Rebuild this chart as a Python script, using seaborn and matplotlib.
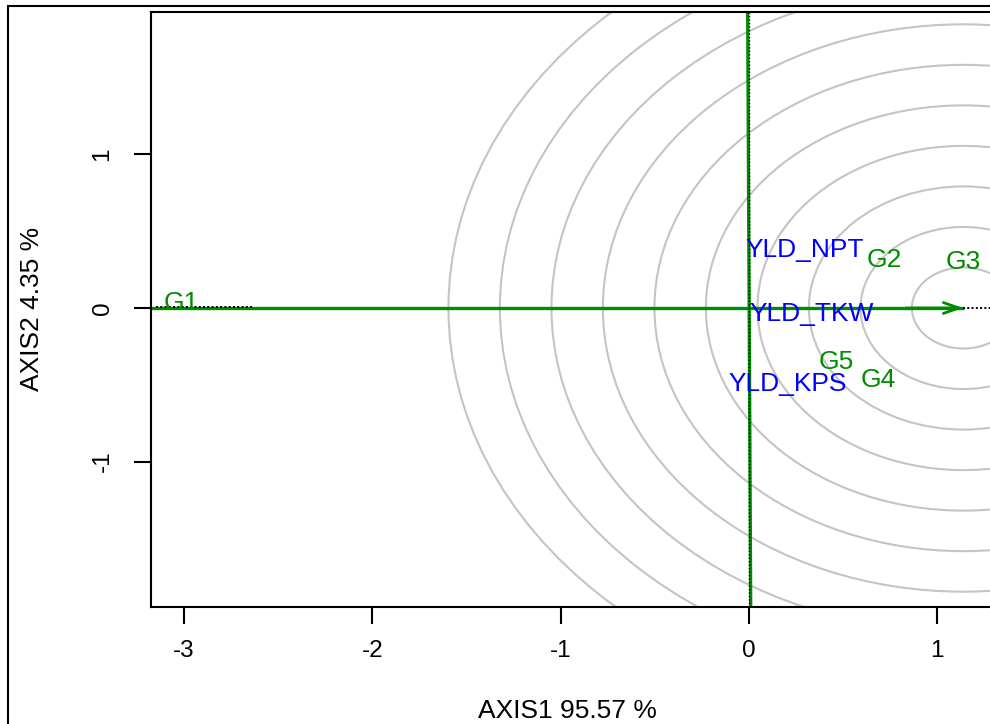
import numpy as np
import pandas as pd
import matplotlib
matplotlib.use("Agg")
import matplotlib.pyplot as plt
import seaborn as sns
from matplotlib.patches import Ellipse, Rectangle

# ---------------- data ----------------
genotypes = ["G1", "G2", "G3", "G4", "G5"]
gen_x = [-3.014, 0.717, 1.137, 0.685, 0.462]
gen_y = [0.049, 0.329, 0.316, -0.453, -0.335]

traits = ["YLD_NPT", "YLD_TKW", "YLD_KPS"]
trait_x = [0.297, 0.332, 0.204]
trait_y = [0.394, -0.023, -0.479]

ideal_x = 1.139
ideal_y = 0.0
ring_rx = [0.274, 0.547, 0.821, 1.094, 1.368, 1.641, 1.915, 2.188, 2.462, 2.735]
ring_ry = [0.264, 0.528, 0.792, 1.056, 1.320, 1.584, 1.848, 2.112, 2.376, 2.640]

aec_x = [-3.18, 1.137]          # average-environment axis (abscissa)
aec_y = [0.0, 0.0]
atc_x = [-0.007, 0.009]         # ordinate through the origin
atc_y = [1.93, -1.95]
g1_proj_x = [-3.15, -2.63]
g1_proj_y = [0.004, 0.004]
tip_proj_x = [1.137, 1.31]
tip_proj_y = [0.0, 0.0]

x_ticks = [-3, -2, -1, 0, 1]
y_ticks = [-1, 0, 1]
x_label = "AXIS1 95.57 %"
y_label = "AXIS2 4.35 %"

# ---------------- style ----------------
sns.set_theme(style="white")
plt.rcParams["font.family"] = ["Liberation Sans", "DejaVu Sans"]
plt.rcParams["text.color"] = "black"
plt.rcParams["xtick.color"] = "black"
plt.rcParams["ytick.color"] = "black"

W, H = 990, 724
fig = plt.figure(figsize=(W / 100, H / 100), dpi=100)
fig.patch.set_facecolor("white")

# axes placed in pixel terms: left 151, top 12, bottom 607, right beyond canvas
left_px, right_px, top_px, bot_px = 151, 995, 12, 607
ax = fig.add_axes([left_px / W, 1 - bot_px / H, (right_px - left_px) / W, (bot_px - top_px) / H])
ax.set_facecolor("white")

x0_px, xscale = 749.0, 188.3
y0_px, yscale = 308.0, 153.5
ax.set_xlim((left_px - x0_px) / xscale, (right_px - x0_px) / xscale)
ax.set_ylim((y0_px - bot_px) / yscale, (y0_px - top_px) / yscale)

GREEN = "#008B00"
GREY = "#C4C4C4"
BLUE = "#0000FF"

# concentric rings around the ideal point
for rx, ry in zip(ring_rx, ring_ry):
    ax.add_patch(Ellipse((ideal_x, ideal_y), 2 * rx, 2 * ry, fill=False,
                         edgecolor=GREY, lw=1.5, zorder=1))

# projection / dotted lines
sns.lineplot(x=g1_proj_x, y=g1_proj_y, ax=ax, color="black", lw=1.4,
             linestyle=(0, (1, 1.2)), estimator=None, sort=False, zorder=3)
sns.lineplot(x=tip_proj_x, y=tip_proj_y, ax=ax, color="black", lw=1.4,
             linestyle=(0, (1, 1.2)), estimator=None, sort=False, zorder=3)

# axis lines through origin
sns.lineplot(x=aec_x, y=aec_y, ax=ax, color=GREEN, lw=2.4,
             estimator=None, sort=False, zorder=2)
sns.lineplot(x=atc_x, y=atc_y, ax=ax, color=GREEN, lw=2.4,
             estimator=None, sort=False, zorder=2)
sns.lineplot(x=[0.002, 0.002], y=atc_y, ax=ax, color="black", lw=1.0,
             linestyle=(0, (1, 1.5)), estimator=None, sort=False, zorder=3)

# arrow head at the ideal point
ax.annotate("", xy=(aec_x[1], aec_y[1]), xytext=(aec_x[1] - 0.3, aec_y[1]),
            arrowprops=dict(arrowstyle="->,head_length=0.8,head_width=0.28",
                            color=GREEN, lw=2.0, shrinkA=0, shrinkB=0,
                            mutation_scale=14), zorder=4)

# labels
for name, x, y in zip(genotypes, gen_x, gen_y):
    ax.text(x, y, name, color=GREEN, fontsize=19, ha="center",
            va="center_baseline", zorder=5)
for name, x, y in zip(traits, trait_x, trait_y):
    ax.text(x, y, name, color=BLUE, fontsize=19, ha="center",
            va="center_baseline", zorder=5)

# ticks and spines
ax.set_xticks(x_ticks)
ax.set_yticks(y_ticks)
ax.set_xticklabels([str(t) for t in x_ticks])
ax.set_yticklabels([str(t) for t in y_ticks], rotation=90, va="center")
ax.tick_params(axis="both", which="major", direction="out", length=12, width=1.5,
               color="black", labelsize=17.5, labelcolor="black",
               bottom=True, left=True, top=False, right=False)
ax.tick_params(axis="x", pad=12)
ax.tick_params(axis="y", pad=15)
for side in ["left", "bottom", "top"]:
    ax.spines[side].set_visible(True)
    ax.spines[side].set_color("black")
    ax.spines[side].set_linewidth(1.5)
ax.spines["right"].set_visible(False)
ax.grid(False)
ax.set_xlabel("")
ax.set_ylabel("")

fig.text(567 / W, 1 - 718 / H, x_label, fontsize=19, ha="center", va="baseline",
         color="black")
fig.text(32 / W, 1 - 309 / H, y_label, fontsize=19, ha="center", va="center",
         rotation=90, color="black")

# outer frame
fig.add_artist(Rectangle((8 / W, -0.05), 1.2, 1 - 6 / H + 0.05, fill=False,
                         edgecolor="black", lw=1.5, transform=fig.transFigure))

fig.savefig("out.png", dpi=100, facecolor="white")
